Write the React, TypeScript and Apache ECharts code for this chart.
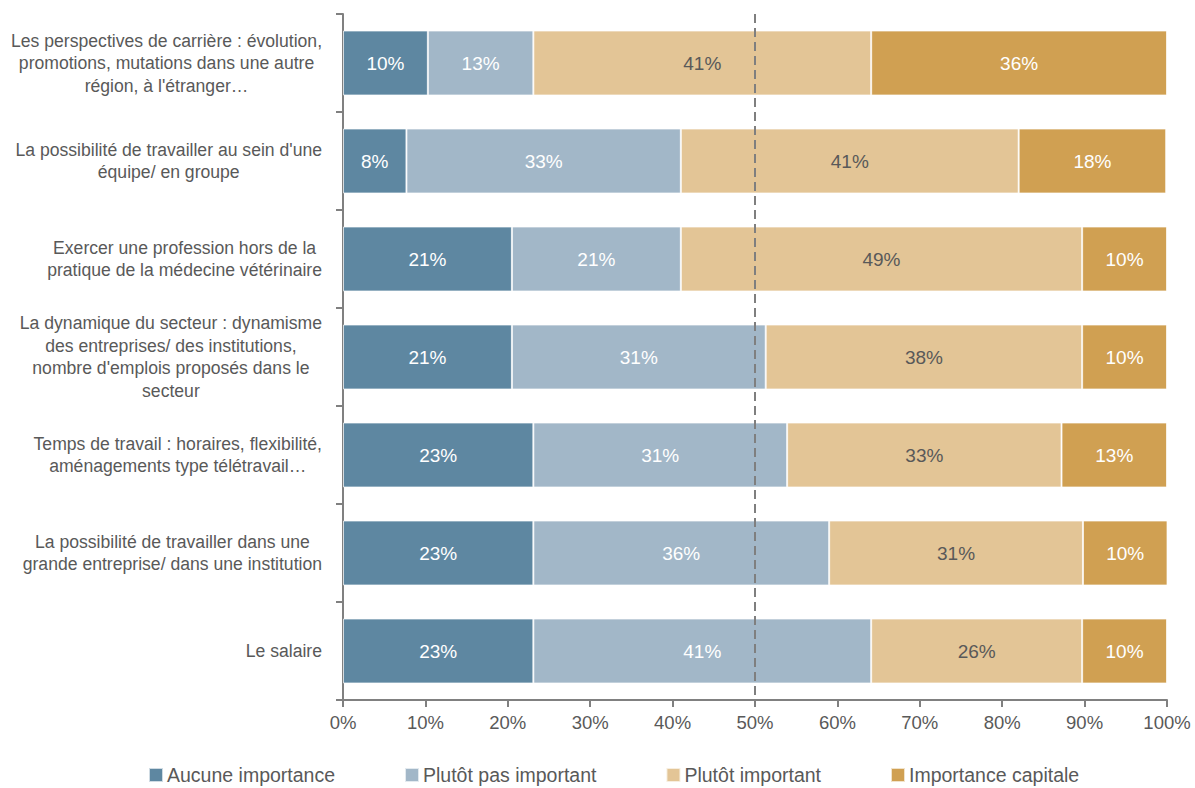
import React, { useEffect, useRef } from "react";
import * as echarts from "echarts";

const categories = [
  "Les perspectives de carrière : évolution,\npromotions, mutations dans une autre\nrégion, à l'étranger…",
  "La possibilité de travailler au sein d'une\néquipe/ en groupe",
  "Exercer une profession hors de la\npratique de la médecine vétérinaire",
  "La dynamique du secteur : dynamisme\ndes entreprises/ des institutions,\nnombre d'emplois proposés dans le\nsecteur",
  "Temps de travail : horaires, flexibilité,\naménagements type télétravail…",
  "La possibilité de travailler dans une\ngrande entreprise/ dans une institution",
  "Le salaire",
];

const seriesNames = ["Aucune importance", "Plutôt pas important", "Plutôt important", "Importance capitale"];
const aucune = [10.3, 7.7, 20.5, 20.5, 23.1, 23.1, 23.1];
const plutotPas = [12.8, 33.3, 20.5, 30.8, 30.8, 35.9, 41.0];
const plutotImp = [41.0, 41.0, 48.7, 38.4, 33.3, 30.8, 25.6];
const capitale = [35.9, 17.9, 10.3, 10.3, 12.8, 10.3, 10.3];
const xTicks = { min: 0, max: 100, interval: 10 };
const refLine = 50;

const colors = ["#5E87A1", "#A2B7C8", "#E3C596", "#D0A052"];
const labelColors = ["#ffffff", "#ffffff", "#595959", "#ffffff"];
const FONT = "'Liberation Sans Narrow', 'Arial Narrow', 'Liberation Sans', Arial, sans-serif";

export default function App() {
  const ref = useRef<HTMLDivElement>(null);
  useEffect(() => {
    document.body.style.margin = "0";
    const chart = echarts.init(ref.current!, null, { renderer: "svg" });
    const data = [aucune, plutotPas, plutotImp, capitale];
    chart.setOption({
      animation: false,
      textStyle: { fontFamily: FONT },
      grid: {
        left: 343,
        right: 28,
        top: 14,
        bottom: 88,
        containLabel: false,
        outerBoundsMode: "none",
      },
      legend: {
        top: 760,
        left: 143,
        padding: 5,
        itemWidth: 14,
        itemHeight: 14,
        itemGap: 69,
        icon: "rect",
        textStyle: { fontFamily: FONT, fontSize: 19.5, color: "#595959", padding: [0, 0, 0, -1] },
        data: seriesNames,
      },
      xAxis: {
        type: "value",
        min: xTicks.min,
        max: xTicks.max,
        interval: xTicks.interval,
        axisLine: { show: true, lineStyle: { color: "#808080", width: 2 } },
        axisTick: { show: true, length: 7, lineStyle: { color: "#808080", width: 2 } },
        splitLine: { show: false },
        axisLabel: {
          formatter: "{value}%",
          fontFamily: FONT,
          fontSize: 18.5,
          color: "#595959",
          margin: 13,
        },
      },
      yAxis: {
        type: "category",
        inverse: true,
        data: categories,
        axisLine: { show: true, lineStyle: { color: "#808080", width: 2 } },
        axisTick: { show: true, length: 7, lineStyle: { color: "#808080", width: 2 } },
        axisLabel: {
          margin: 21,
          align: "right",
          formatter: (v: string) =>
            v
              .split("\n")
              .map((l) => `{c|${l}}`)
              .join("\n"),
          rich: {
            c: {
              align: "center",
              fontFamily: FONT,
              fontSize: 17.6,
              lineHeight: 22.5,
              color: "#595959",
            },
          },
        },
      },
      series: seriesNames.map((name, i) => ({
        name,
        type: "bar",
        stack: "total",
        barWidth: 65,
        data: data[i],
        itemStyle: { color: colors[i], borderColor: "rgba(255,255,255,0.7)", borderWidth: 1 },
        label: {
          show: true,
          position: "inside",
          formatter: (p: any) => `${Math.round(p.value)}%`,
          fontFamily: FONT,
          fontSize: 19,
          color: labelColors[i],
        },
        markLine:
          i === 0
            ? {
                silent: true,
                symbol: "none",
                label: { show: false },
                lineStyle: { color: "#7F7F7F", width: 2, type: [9, 5] },
                data: [{ xAxis: refLine }],
              }
            : undefined,
        z: 2,
      })),
    });
    return () => chart.dispose();
  }, []);
  return <div ref={ref} style={{ width: 1195, height: 788 }} />;
}
